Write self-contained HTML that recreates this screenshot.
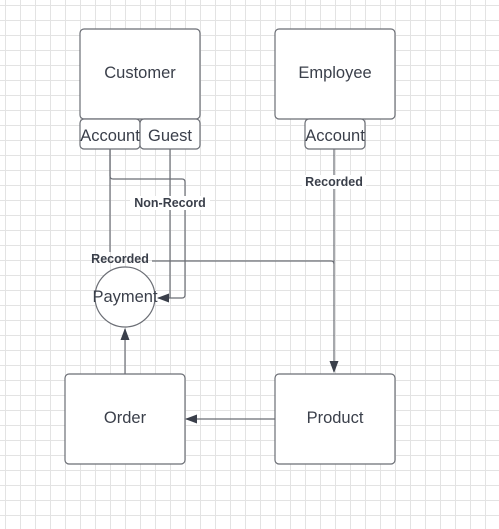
<!DOCTYPE html>
<html><head><style>
html,body{margin:0;padding:0;background:#fff;}
body{width:499px;height:529px;overflow:hidden;
background-image:linear-gradient(to right,#e3e3e3 1px,transparent 1px),linear-gradient(to bottom,#e3e3e3 1px,transparent 1px);
background-size:15px 15px;background-position:5px 5px;}
svg{position:absolute;left:0;top:0;}
text{font-family:"Liberation Sans",sans-serif;fill:#3a3f4a;}
</style></head><body>
<svg width="499" height="529" viewBox="0 0 499 529">
<defs><marker id="a" markerWidth="12" markerHeight="12" refX="11" refY="6" orient="auto" markerUnits="userSpaceOnUse"><path d="M0,1.5 L12,6 L0,10.5z" fill="#3a3f4a"/></marker></defs>
<g fill="#fff" stroke="#6b6e75" stroke-width="1.2">
<rect x="80" y="29" width="120" height="90" rx="4"/>
<rect x="275" y="29" width="120" height="90" rx="4"/>
<rect x="80" y="119" width="60" height="30" rx="4"/>
<rect x="140" y="119" width="60" height="30" rx="4"/>
<rect x="305" y="119" width="60" height="30" rx="4"/>
<rect x="65" y="374" width="120" height="90" rx="4"/>
<rect x="275" y="374" width="120" height="90" rx="4"/>
<circle cx="125" cy="297" r="30"/>
</g>
<g fill="none" stroke="#6b6e75" stroke-width="1.2">
<path d="M110,149 V252"/>
<path d="M110,149 V176 Q110,179 113,179 H182 Q185,179 185,182 V295 Q185,298 182,298 H158" marker-end="url(#a)"/>
<path d="M170,149 V298"/>
<path d="M152,261 H331 Q334,261 334,264"/>
<path d="M334,149 V372" marker-end="url(#a)"/>
<path d="M125,374 V329" marker-end="url(#a)"/>
<path d="M275,419 H186" marker-end="url(#a)"/>
</g>
<g font-size="16.5" text-anchor="middle">
<text x="140" y="78">Customer</text>
<text x="335" y="78">Employee</text>
<text x="110" y="141">Account</text>
<text x="170" y="141">Guest</text>
<text x="335" y="141">Account</text>
<text x="125" y="423">Order</text>
<text x="335" y="423">Product</text>
<text x="125" y="302">Payment</text>
</g>
<g font-size="12.5" font-weight="bold" text-anchor="middle">
<rect x="130" y="196" width="80" height="14" fill="#fff"/>
<text x="170" y="207">Non-Record</text>
<rect x="302" y="175" width="64" height="14" fill="#fff"/>
<text x="334" y="186">Recorded</text>
<text x="120" y="263">Recorded</text>
</g>
</svg>
</body></html>
